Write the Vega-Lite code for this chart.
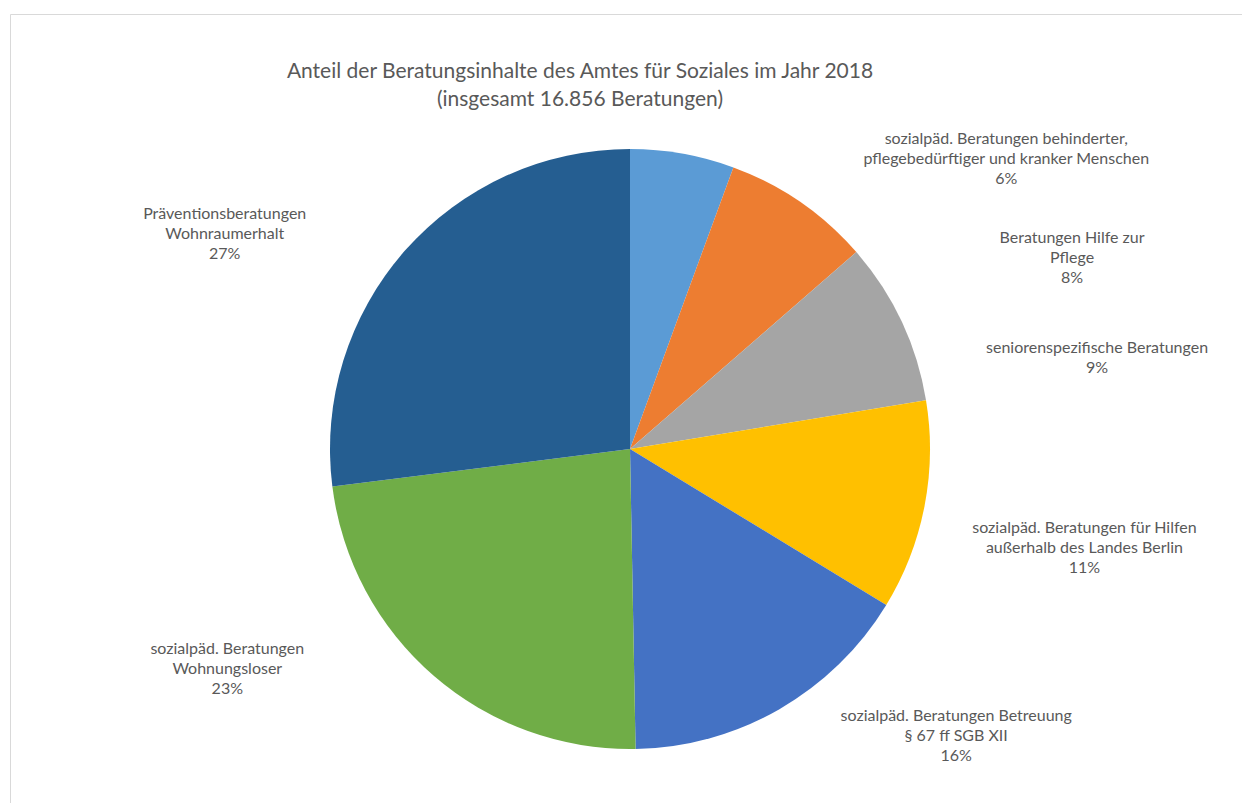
{
  "$schema": "https://vega.github.io/schema/vega-lite/v6.json",
  "autosize": {"type": "none"},
  "width": 1232,
  "height": 789,
  "padding": {"left": 10, "top": 14, "right": 0, "bottom": 0},
  "background": "white",
  "config": {
    "view": {"stroke": "#d9d9d9", "strokeWidth": 1},
    "font": "Lato",
    "text": {"font": "Lato"}
  },
  "title": {
    "text": ["Anteil der Beratungsinhalte des Amtes für Soziales im Jahr 2018", "(insgesamt 16.856 Beratungen)"],
    "anchor": "middle",
    "frame": "group",
    "orient": "top",
    "font": "Lato",
    "fontSize": 21,
    "fontWeight": "normal",
    "color": "#595959",
    "lineHeight": 28,
    "baseline": "top",
    "offset": -96,
    "dx": -46
  },
  "data": {
    "values": [
      {"kategorie": "sozialpäd. Beratungen behinderter,\npflegebedürftiger und kranker Menschen", "anzahl": 944},
      {"kategorie": "Beratungen Hilfe zur\nPflege", "anzahl": 1349},
      {"kategorie": "seniorenspezifische Beratungen", "anzahl": 1483},
      {"kategorie": "sozialpäd. Beratungen für Hilfen\naußerhalb des Landes Berlin", "anzahl": 1905},
      {"kategorie": "sozialpäd. Beratungen Betreuung\n§ 67 ff SGB XII", "anzahl": 2697},
      {"kategorie": "sozialpäd. Beratungen\nWohnungsloser", "anzahl": 3927},
      {"kategorie": "Präventionsberatungen\nWohnraumerhalt", "anzahl": 4551}
    ]
  },
  "transform": [
    {"joinaggregate": [{"op": "sum", "field": "anzahl", "as": "gesamt"}]},
    {"stack": "anzahl", "groupby": [], "sort": [{"field": "anzahl", "order": "ascending"}], "as": ["t0", "t1"]},
    {"calculate": "(datum.t0 + datum.t1) / 2", "as": "tmitte"},
    {"calculate": "datum.kategorie + '\\n' + format(datum.anzahl / datum.gesamt, '.0%')", "as": "beschriftung"}
  ],
  "encoding": {
    "x": {"value": 620},
    "y": {"value": 435}
  },
  "layer": [
    {
      "mark": {"type": "arc", "outerRadius": 300},
      "encoding": {
        "theta": {"field": "t1", "type": "quantitative", "stack": null},
        "theta2": {"field": "t0"},
        "color": {
          "field": "kategorie",
          "type": "nominal",
          "legend": null,
          "scale": {
            "domain": [
              "sozialpäd. Beratungen behinderter,\npflegebedürftiger und kranker Menschen",
              "Beratungen Hilfe zur\nPflege",
              "seniorenspezifische Beratungen",
              "sozialpäd. Beratungen für Hilfen\naußerhalb des Landes Berlin",
              "sozialpäd. Beratungen Betreuung\n§ 67 ff SGB XII",
              "sozialpäd. Beratungen\nWohnungsloser",
              "Präventionsberatungen\nWohnraumerhalt"
            ],
            "range": ["#5B9BD5", "#ED7D31", "#A5A5A5", "#FFC000", "#4472C4", "#70AD47", "#255E91"]
          }
        }
      }
    },
    {
      "transform": [{"filter": "datum.anzahl == 944"}],
      "mark": {"type": "text", "radius": 350, "dx": 315, "dy": 35, "align": "center", "baseline": "middle", "fontSize": 16, "lineHeight": 20, "color": "#595959", "lineBreak": "\n"},
      "encoding": {"theta": {"field": "tmitte", "type": "quantitative", "stack": null}, "text": {"field": "beschriftung"}}
    },
    {
      "transform": [{"filter": "datum.anzahl == 1349"}],
      "mark": {"type": "text", "radius": 409, "dx": 210, "dy": 126, "align": "center", "baseline": "middle", "fontSize": 16, "lineHeight": 20, "color": "#595959", "lineBreak": "\n"},
      "encoding": {"theta": {"field": "tmitte", "type": "quantitative", "stack": null}, "text": {"field": "beschriftung"}}
    },
    {
      "transform": [{"filter": "datum.anzahl == 1483"}],
      "mark": {"type": "text", "radius": 462, "dx": 49, "dy": 96, "align": "center", "baseline": "middle", "fontSize": 16, "lineHeight": 20, "color": "#595959", "lineBreak": "\n"},
      "encoding": {"theta": {"field": "tmitte", "type": "quantitative", "stack": null}, "text": {"field": "beschriftung"}}
    },
    {
      "transform": [{"filter": "datum.anzahl == 1905"}],
      "mark": {"type": "text", "radius": 465, "dx": -2, "dy": -10, "align": "center", "baseline": "middle", "fontSize": 16, "lineHeight": 20, "color": "#595959", "lineBreak": "\n"},
      "encoding": {"theta": {"field": "tmitte", "type": "quantitative", "stack": null}, "text": {"field": "beschriftung"}}
    },
    {
      "transform": [{"filter": "datum.anzahl == 2697"}],
      "mark": {"type": "text", "radius": 410, "dx": 122, "dy": -89, "align": "center", "baseline": "middle", "fontSize": 16, "lineHeight": 20, "color": "#595959", "lineBreak": "\n"},
      "encoding": {"theta": {"field": "tmitte", "type": "quantitative", "stack": null}, "text": {"field": "beschriftung"}}
    },
    {
      "transform": [{"filter": "datum.anzahl == 3927"}],
      "mark": {"type": "text", "radius": 429, "dx": -122, "dy": -124, "align": "center", "baseline": "middle", "fontSize": 16, "lineHeight": 20, "color": "#595959", "lineBreak": "\n"},
      "encoding": {"theta": {"field": "tmitte", "type": "quantitative", "stack": null}, "text": {"field": "beschriftung"}}
    },
    {
      "transform": [{"filter": "datum.anzahl == 4551"}],
      "mark": {"type": "text", "radius": 447, "dx": -70, "dy": 61, "align": "center", "baseline": "middle", "fontSize": 16, "lineHeight": 20, "color": "#595959", "lineBreak": "\n"},
      "encoding": {"theta": {"field": "tmitte", "type": "quantitative", "stack": null}, "text": {"field": "beschriftung"}}
    }
  ]
}
